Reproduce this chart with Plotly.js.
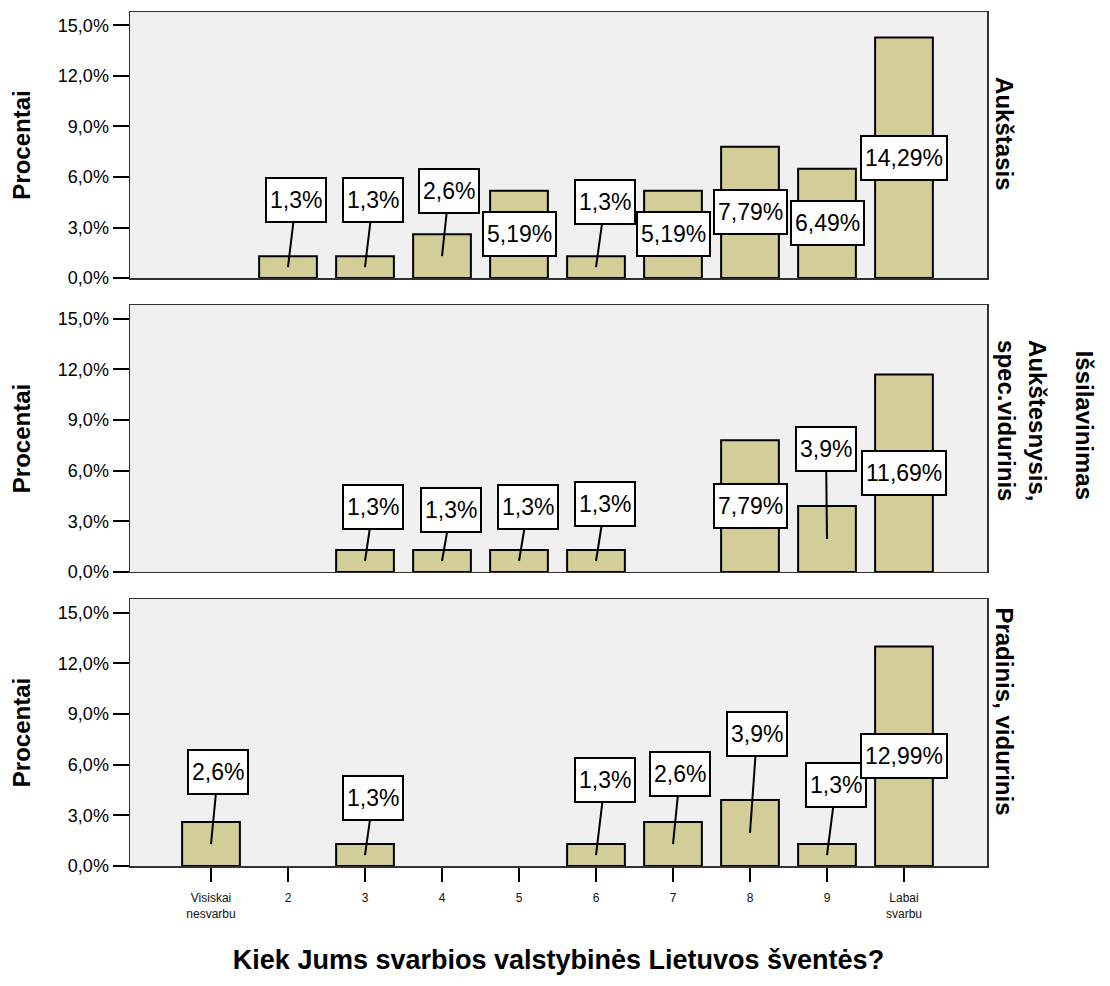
<!DOCTYPE html>
<html>
<head>
<meta charset="utf-8">
<script src="https://cdn.plot.ly/plotly-3.0.1.min.js"></script>
<style>html,body{margin:0;padding:0;background:#fff;}#chart{width:1110px;height:986px;}</style>
</head>
<body>
<div id="chart"></div>
<script>
// ---- data ----
const categories = ['Visiskai<br>nesvarbu', '2', '3', '4', '5', '6', '7', '8', '9', 'Labai<br>svarbu'];
const aukstasis    = [0, 1.3, 1.3, 2.6, 5.19, 1.3, 5.19, 7.79, 6.49, 14.29];
const aukstesnysis = [0, 0, 1.3, 1.3, 1.3, 1.3, 0, 7.79, 3.9, 11.69];
const pradinis     = [2.6, 0, 1.3, 0, 0, 1.3, 2.6, 3.9, 1.3, 12.99];
const panelNames = ['Aukštasis', 'Aukštesnysis,<br>spec.vidurinis', 'Pradinis, vidurinis'];
const groupTitle = 'Išsilavinimas';
const yTitle = 'Procentai';
const xTitle = 'Kiek Jums svarbios valstybinės Lietuvos šventės?';
const yTickVals = [0, 3, 6, 9, 12, 15];
const yTickText = ['0,0%', '3,0%', '6,0%', '9,0%', '12,0%', '15,0%'];

// ---- label placement (pixel offsets of callout boxes for small bars) ----
const labelOffsets = [
  {1: [8, -67], 2: [8, -67], 3: [7, -65], 5: [9, -65]},
  {2: [8, -54], 3: [9, -51], 4: [9, -54], 5: [9, -57], 8: [-1, -90]},
  {0: [7, -72], 2: [8, -57], 5: [9, -75], 6: [7, -70], 7: [7, -99], 8: [9, -70]}
];

const series = [aukstasis, aukstesnysis, pradinis];
const idx = categories.map((_, i) => i);
const barColor = '#d3ce97';
const fontFamily = '"Liberation Sans", Arial, sans-serif';

const domains = [[0.6885, 1.0], [0.3443, 0.6569], [0.0, 0.3126]];
const traces = [];
const annotations = [];
const layout = {
  width: 1110, height: 986,
  margin: {l: 130, r: 123, t: 12, b: 120},
  paper_bgcolor: '#ffffff',
  plot_bgcolor: '#f0f0f0',
  showlegend: false,
  separators: ',.',
  font: {family: fontFamily, color: '#000'},
  bargap: 0.25
};

series.forEach((vals, p) => {
  const n = p === 0 ? '' : String(p + 1);
  traces.push({
    type: 'bar',
    x: idx,
    y: vals.map(v => v > 0 ? v : null),
    xaxis: 'x' + n, yaxis: 'y' + n,
    width: 0.75,
    marker: {color: barColor, line: {color: '#000', width: 2}},
    hoverinfo: 'skip'
  });
  const last = p === 2;
  layout['xaxis' + n] = {
    anchor: 'y' + n,
    domain: [0, 1],
    range: [-1.052, 10.078],
    tickmode: 'array',
    tickvals: idx,
    ticktext: categories,
    showticklabels: last,
    ticks: last ? 'outside' : '',
    ticklen: 14, tickwidth: 2, tickcolor: '#000',
    ticklabelstandoff: 6,
    tickfont: {family: fontFamily, size: 12, color: '#111'},
    showgrid: false, zeroline: false,
    showline: true, linecolor: '#333', linewidth: 1.5, mirror: true,
    fixedrange: true
  };
  if (last) {
    layout['xaxis' + n].title = {text: xTitle, font: {family: fontFamily, size: 27, color: '#000', weight: 'bold'}, standoff: 30};
  }
  layout['yaxis' + n] = {
    anchor: 'x' + n,
    domain: domains[p],
    range: [0, 15.8],
    tickmode: 'array',
    tickvals: yTickVals,
    ticktext: yTickText,
    ticks: 'outside', ticklen: 16, tickwidth: 2, tickcolor: '#000',
    tickfont: {family: fontFamily, size: 18, color: '#000'},
    showgrid: false, zeroline: false,
    showline: true, linecolor: '#333', linewidth: 1.5, mirror: true,
    title: {text: yTitle, font: {family: fontFamily, size: 24, color: '#000', weight: 'bold'}, standoff: 20},
    fixedrange: true
  };

  vals.forEach((v, i) => {
    if (!(v > 0)) return;
    const txt = String(v).replace('.', ',') + '%';
    const off = labelOffsets[p][i];
    const a = {
      x: i, y: v / 2,
      xref: 'x' + n, yref: 'y' + n,
      text: txt,
      font: {family: fontFamily, size: 23, color: '#000'},
      bgcolor: '#ffffff', bordercolor: '#000', borderwidth: 2, borderpad: 3,
      height: 36
    };
    if (off) {
      Object.assign(a, {showarrow: true, ax: off[0], ay: off[1], arrowhead: 0, arrowwidth: 2, arrowcolor: '#000', standoff: 0, startstandoff: 0});
    } else {
      a.showarrow = false;
    }
    annotations.push(a);
  });
});

// facet labels on the right
const panelLabelPos = [[1.021, 0.857], [1.041, 0.522], [1.021, 0.181]];
panelNames.forEach((name, p) => {
  annotations.push({
    xref: 'paper', yref: 'paper',
    x: panelLabelPos[p][0], y: panelLabelPos[p][1],
    xanchor: 'center', yanchor: 'middle',
    text: name, textangle: 90, align: 'left', showarrow: false,
    font: {family: fontFamily, size: 24, color: '#000', weight: 'bold'}
  });
});
annotations.push({
  xref: 'paper', yref: 'paper', x: 1.114, y: 0.516,
  xanchor: 'center', yanchor: 'middle',
  text: groupTitle, textangle: 90, showarrow: false,
  font: {family: fontFamily, size: 24, color: '#000', weight: 'bold'}
});
layout.annotations = annotations;

Plotly.newPlot('chart', traces, layout, {displayModeBar: false, staticPlot: true});
</script>
</body>
</html>
